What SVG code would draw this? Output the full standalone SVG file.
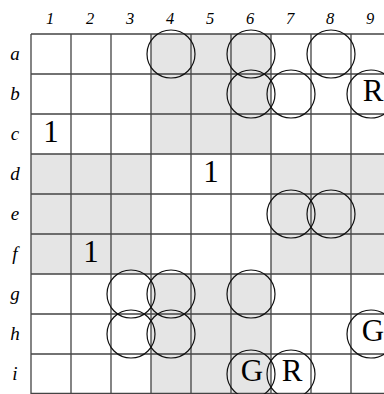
<svg xmlns="http://www.w3.org/2000/svg" width="384" height="394" viewBox="0 0 384 394">
<style>
.sh{fill:#e5e5e5}
.gl{stroke:#444;stroke-width:1.3;fill:none}
.c{fill:none;stroke:#111;stroke-width:1.2}
.lb{font-family:"Liberation Serif",serif;font-style:italic;font-size:16.5px;text-anchor:middle;fill:#000}
.rl{font-size:19px}
.v{font-family:"Liberation Serif",serif;font-size:31px;text-anchor:middle;fill:#000}
</style>
<rect width="384" height="394" fill="#fff"/>
<g id="shading">
<rect class="sh" x="151" y="34" width="120" height="120"/>
<rect class="sh" x="31" y="154" width="120" height="120"/>
<rect class="sh" x="271" y="154" width="120" height="120"/>
<rect class="sh" x="151" y="274" width="120" height="120"/>
</g>
<g id="grid" class="gl">
<path d="M31 34V394M71 34V394M111 34V394M151 34V394M191 34V394M231 34V394M271 34V394M311 34V394M351 34V394"/>
<path d="M31 34H391M31 74H391M31 114H391M31 154H391M31 194H391M31 234H391M31 274H391M31 314H391M31 354H391M31 393.5H391"/>
</g>
<g id="col-labels" class="lb">
<text x="50" y="24">1</text><text x="90" y="24">2</text><text x="130" y="24">3</text><text x="170" y="24">4</text><text x="210" y="24">5</text><text x="250" y="24">6</text><text x="290" y="24">7</text><text x="330" y="24">8</text><text x="370" y="24">9</text>
</g>
<g id="row-labels" class="lb rl">
<text x="15" y="60">a</text><text x="15" y="100">b</text><text x="15" y="140">c</text><text x="15" y="180">d</text><text x="15" y="220">e</text><text x="15" y="260">f</text><text x="15" y="300">g</text><text x="15" y="340">h</text><text x="15" y="380">i</text>
</g>
<g id="circles" class="c">
<circle cx="171" cy="54" r="24"/>
<circle cx="251" cy="54" r="24"/>
<circle cx="331" cy="54" r="24"/>
<circle cx="251" cy="94" r="24"/>
<circle cx="291" cy="94" r="24"/>
<circle cx="371" cy="94" r="24"/>
<circle cx="291" cy="214" r="24"/>
<circle cx="331" cy="214" r="24"/>
<circle cx="131" cy="294" r="24"/>
<circle cx="171" cy="294" r="24"/>
<circle cx="251" cy="294" r="24"/>
<circle cx="131" cy="334" r="24"/>
<circle cx="171" cy="334" r="24"/>
<circle cx="371" cy="334" r="24"/>
<circle cx="251" cy="374" r="24"/>
<circle cx="291" cy="374" r="24"/>
</g>
<g id="values" class="v">
<text x="51" y="142">1</text>
<text x="211" y="182">1</text>
<text x="91" y="262">1</text>
<text x="373" y="101">R</text>
<text x="373" y="341">G</text>
<text x="252" y="381">G</text>
<text x="292" y="381">R</text>
</g>
</svg>
